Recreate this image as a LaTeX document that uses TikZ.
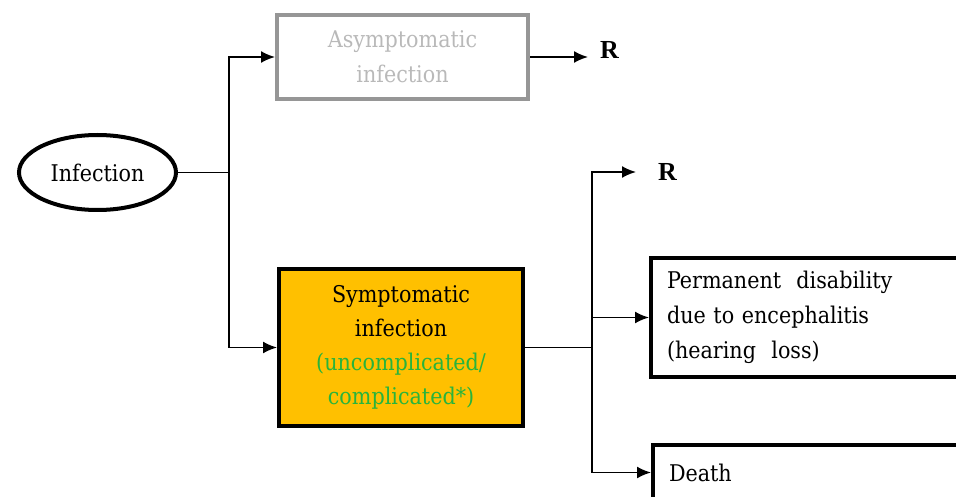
\documentclass[tikz,border=0pt]{standalone}
\usepackage{fontspec}
\setmainfont{DejaVu Serif Condensed}
\newfontfamily\boxfont{DejaVu Serif Condensed}
\newfontfamily\rfont{Liberation Serif}
\usetikzlibrary{shapes.geometric,arrows.meta}

\definecolor{symfill}{RGB}{255,192,0}
\definecolor{symgreen}{RGB}{40,180,60}
\definecolor{asyborder}{RGB}{150,150,150}
\definecolor{asytext}{RGB}{185,185,185}

\tikzset{
  every node/.style={font=\boxfont\fontsize{23}{34}\selectfont},
  conn/.style={line width=1.8pt, draw=black},
  arr/.style={conn, -{Latex[length=14pt,width=12pt]}},
  thickbox/.style={draw, line width=4pt, rectangle, inner sep=0pt},
  outlabel/.style={font=\rfont\fontsize{26}{30}\selectfont\bfseries, inner sep=0pt, anchor=west},
}

\begin{document}
\begin{tikzpicture}[x=1pt,y=-1pt]
  \useasboundingbox (0,0) rectangle (956,497);

  % states
  \node[ellipse, draw, line width=4pt, minimum width=157pt, minimum height=75pt, inner sep=0pt]
    (inf) at (97.5,172.5) {Infection};

  \node[thickbox, draw=asyborder, text=asytext, minimum width=251pt, minimum height=84pt,
        align=center, font=\boxfont\fontsize{23}{35}\selectfont]
    (asy) at (402.5,57) {Asymptomatic\\infection};

  \node[thickbox, fill=symfill, minimum width=244pt, minimum height=157pt,
        align=center, font=\boxfont\fontsize{23}{34}\selectfont]
    (sym) at (401,347.5) {Symptomatic\\infection\\\textcolor{symgreen}{(uncomplicated/}\\\textcolor{symgreen}{complicated*)}};

  \node[thickbox, anchor=west, minimum height=119pt, text width=300pt, inner xsep=16pt,
        align=left, font=\boxfont\fontsize{23}{35}\selectfont]
    (dis) at (649,317.5) {Permanent\ \ disability\\due to encephalitis\\(hearing\ \ loss)};

  \node[thickbox, anchor=west, minimum height=55pt, text width=300pt, inner xsep=16pt,
        align=left]
    (dea) at (651,472.5) {Death};

  % recovered outcomes
  \node[outlabel] (r1) at (600,50) {R};
  \node[outlabel] (r2) at (658,172) {R};

  % branching connectors
  \coordinate (j1) at (inf.east -| 229,0);
  \draw[conn] (inf.east) -- (j1);
  \draw[arr] (j1) |- (asy.west);
  \draw[arr] (j1) |- (sym.west);
  \draw[arr, shorten >=12pt] (asy.east) -- (asy.east -| r1.west);

  \coordinate (j2) at (sym.east -| 592,0);
  \draw[conn] (sym.east) -- (j2);
  \draw[arr, shorten >=22pt] (j2) |- (r2.west);
  \draw[arr] (j2) |- (dis.west);
  \draw[arr] (j2) |- (dea.west);
\end{tikzpicture}
\end{document}
